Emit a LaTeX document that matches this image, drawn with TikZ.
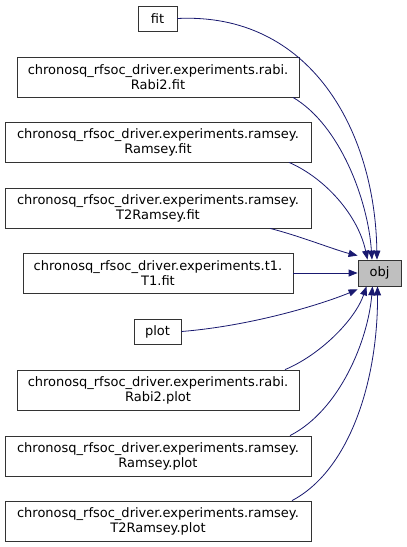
\documentclass[tikz,border=0pt]{standalone}
\usepackage{fontspec}
\setmainfont{DejaVu Sans}
\usetikzlibrary{arrows.meta}
\definecolor{edgeblue}{HTML}{191970}
\definecolor{objgrey}{HTML}{BFBFBF}
\begin{document}
\begin{tikzpicture}[x=1pt,y=-1pt,
  box/.style={draw=black!80,fill=white,line width=0.8pt,inner sep=0pt,align=center,
    font=\fontsize{13}{15}\selectfont},
  edge/.style={draw=edgeblue,line width=0.8pt,-{Triangle[length=9pt,width=7pt]}}]
\useasboundingbox[fill=white] (0,0) rectangle (407,547);
\node[box,minimum width=39pt,minimum height=25pt] (fit) at (157.5,18.5) {fit};
\node[box,minimum width=282pt,minimum height=40pt] (rabifit) at (158,77) {chronosq\_rfsoc\_driver.experiments.rabi.\\Rabi2.fit};
\node[box,minimum width=306pt,minimum height=40pt] (ramseyfit) at (158,142) {chronosq\_rfsoc\_driver.experiments.ramsey.\\Ramsey.fit};
\node[box,minimum width=306pt,minimum height=40pt] (t2fit) at (158,208) {chronosq\_rfsoc\_driver.experiments.ramsey.\\T2Ramsey.fit};
\node[box,minimum width=270pt,minimum height=40pt] (t1fit) at (158,273) {chronosq\_rfsoc\_driver.experiments.t1.\\T1.fit};
\node[box,fill=objgrey,minimum width=43pt,minimum height=26pt] (obj) at (379.5,273) {obj};
\node[box,minimum width=47pt,minimum height=25pt] (plot) at (157.5,331.5) {plot};
\node[box,minimum width=282pt,minimum height=40pt] (rabiplot) at (158,390) {chronosq\_rfsoc\_driver.experiments.rabi.\\Rabi2.plot};
\node[box,minimum width=306pt,minimum height=40pt] (ramseyplot) at (158,456) {chronosq\_rfsoc\_driver.experiments.ramsey.\\Ramsey.plot};
\node[box,minimum width=306pt,minimum height=40pt] (t2plot) at (158,521) {chronosq\_rfsoc\_driver.experiments.ramsey.\\T2Ramsey.plot};

\draw[edge] (fit.east) .. controls (310,12) and (375,130) .. ([xshift=-2.5pt]obj.north);
\draw[edge] ([xshift=135pt]rabifit.south) .. controls (340,125) and (368,200) .. ([xshift=-7.5pt]obj.north);
\draw[edge] ([xshift=131pt]ramseyfit.south) .. controls (325,178) and (358,215) .. ([xshift=-12pt]obj.north);
\draw[edge] ([xshift=112pt]t2fit.south) .. controls (300,236) and (335,250) .. ([yshift=4pt]obj.north west);
\draw[edge] (t1fit.east) -- (obj.west);
\draw[edge] (plot.east) .. controls (250,326) and (320,305) .. ([yshift=-3pt]obj.south west);
\draw[edge] ([xshift=127pt]rabiplot.north) .. controls (320,355) and (355,320) .. ([xshift=-13pt]obj.south);
\draw[edge] ([xshift=132pt]ramseyplot.north) .. controls (340,410) and (368,340) .. ([xshift=-7pt]obj.south);
\draw[edge] ([xshift=134pt]t2plot.north) .. controls (350,470) and (378,380) .. ([xshift=-2pt]obj.south);
\end{tikzpicture}
\end{document}
